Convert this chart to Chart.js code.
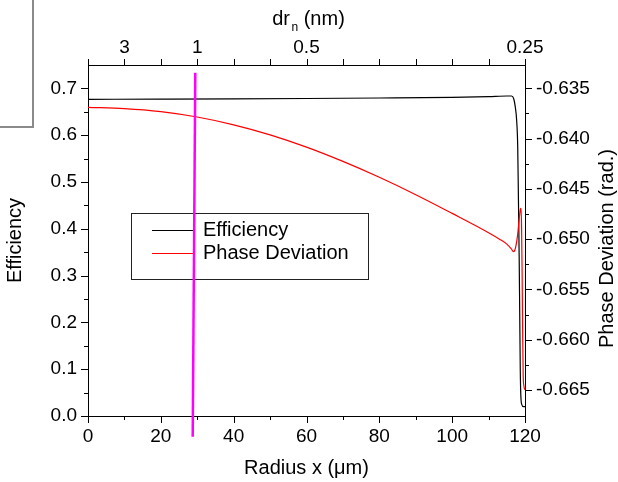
<!DOCTYPE html>
<html>
<head>
<meta charset="utf-8">
<title>Efficiency and phase deviation vs radius</title>
<script src="https://cdn.jsdelivr.net/npm/chart.js@4/dist/chart.umd.min.js"></script>
<style>
  html, body { margin: 0; padding: 0; background: #fff; }
  #wrap { position: relative; width: 618px; height: 482px; overflow: hidden; }
  #frame { position: absolute; left: -10px; top: -10px; width: 42px; height: 136px;
           border-right: 2px solid #8a8a8a; border-bottom: 2px solid #8a8a8a; }
</style>
</head>
<body>
<div id="wrap">
  <canvas id="c" width="618" height="482"></canvas>
  <div id="frame"></div>
</div>
<script>
// Radius x (µm) and diffraction efficiency
const effX = [0, 20, 40, 60, 80, 100, 110, 115, 116.3, 116.9, 117.3, 117.7, 118.0, 118.2, 118.4, 118.55, 118.7, 118.85, 119.1, 119.6, 120];
const effY = [0.6767, 0.6770, 0.6775, 0.6784, 0.6795, 0.6810, 0.6825, 0.6838, 0.6838, 0.678, 0.662, 0.6325, 0.5754, 0.4615, 0.34, 0.22, 0.10, 0.045, 0.025, 0.02, 0.02];

// Radius x (µm) and phase deviation (rad.)
const phaseX = [0, 10, 20, 30, 40, 50, 60, 70, 80, 90, 100, 110, 113, 115, 116.3, 116.8, 117.2, 117.6, 118.0, 118.3, 118.55, 118.75, 118.9, 119.05, 119.2, 119.35, 119.5, 119.7, 120];
const phaseY = [-0.63689, -0.63701, -0.63731, -0.63785, -0.63863, -0.63963, -0.64085, -0.64227, -0.64385, -0.64558, -0.64744, -0.64936, -0.65000, -0.65050, -0.65100, -0.65125, -0.65110, -0.65050, -0.64950, -0.64840, -0.64750, -0.64700, -0.64693, -0.64859, -0.65307, -0.65904, -0.66351, -0.66460, -0.66500];

// Marker line at the 1 nm zone width
const markX = [28.75, 29.46];
const markY = [-0.0442, 0.7335];

// Axis ticks
const effTicks = [0, 0.1, 0.2, 0.3, 0.4, 0.5, 0.6, 0.7];
const effMinor = [0.05, 0.15, 0.25, 0.35, 0.45, 0.55, 0.65];
const phaseTicks = [-0.635, -0.640, -0.645, -0.650, -0.655, -0.660, -0.665];
const phaseMinor = [-0.6375, -0.6425, -0.6475, -0.6525, -0.6575, -0.6625];
const radiusTicks = [0, 20, 40, 60, 80, 100, 120];
const radiusMinor = [10, 30, 50, 70, 90, 110];
const drTickPos = [10, 30, 60, 120];
const drTickLabels = ['3', '1', '0.5', '0.25'];
const drMinor = [0, 20, 40, 50, 70, 80, 90, 100, 110];

// Legend entries, top to bottom
const legendOrder = ['Efficiency', 'Phase Deviation'];

const FONT = "'Liberation Sans', Arial, sans-serif";
const toXY = (xs, ys) => xs.map((x, i) => ({ x: x, y: ys[i] }));

// Short outward tick marks, major and minor, on all four sides
const tickMarks = {
  id: 'tickMarks',
  afterDraw(chart) {
    const { ctx, chartArea: a, scales: s } = chart;
    ctx.save();
    ctx.strokeStyle = '#000';
    ctx.lineWidth = 1;
    const seg = (x1, y1, x2, y2) => { ctx.beginPath(); ctx.moveTo(x1, y1); ctx.lineTo(x2, y2); ctx.stroke(); };
    const px = v => Math.round(v) + 0.5;
    radiusTicks.forEach(v => { const x = px(s.x.getPixelForValue(v)); seg(x, a.bottom, x, a.bottom + 7); });
    radiusMinor.forEach(v => { const x = px(s.x.getPixelForValue(v)); seg(x, a.bottom, x, a.bottom + 4); });
    drTickPos.concat(drMinor).forEach(v => { const x = px(s.x2.getPixelForValue(v)); seg(x, a.top, x, a.top - 6); });
    effTicks.forEach(v => { const y = px(s.y.getPixelForValue(v)); seg(a.left - 7, y, a.left, y); });
    effMinor.forEach(v => { const y = px(s.y.getPixelForValue(v)); seg(a.left - 4, y, a.left, y); });
    phaseTicks.forEach(v => { const y = px(s.y2.getPixelForValue(v)); seg(a.right, y, a.right + 7, y); });
    phaseMinor.forEach(v => { const y = px(s.y2.getPixelForValue(v)); seg(a.right, y, a.right + 4, y); });
    ctx.restore();
  }
};

// Boxed legend inside the plot
const boxLegend = {
  id: 'boxLegend',
  beforeDatasetsDraw(chart) {
    const ctx = chart.ctx;
    const sets = chart.data.datasets;
    ctx.save();
    ctx.fillStyle = '#fff';
    ctx.fillRect(131.5, 213.5, 237, 66);
    ctx.strokeStyle = '#222';
    ctx.lineWidth = 1;
    ctx.strokeRect(131.5, 213.5, 237, 66);
    ctx.font = '20px ' + FONT;
    ctx.textBaseline = 'middle';
    ctx.textAlign = 'left';
    legendOrder.forEach((name, i) => {
      const d = sets.find(ds => ds.label === name);
      const y = 230.5 + i * 23;
      ctx.strokeStyle = d.borderColor;
      ctx.beginPath(); ctx.moveTo(152, y); ctx.lineTo(194, y); ctx.stroke();
      ctx.fillStyle = '#000';
      ctx.fillText(d.label, 203, y);
    });
    ctx.restore();
  }
};

// Top axis title with subscript, dr_n (nm), and right axis title read bottom-to-top
const axisTitles = {
  id: 'axisTitles',
  afterDraw(chart) {
    const { ctx, chartArea: a } = chart;
    ctx.save();
    ctx.fillStyle = '#000';
    ctx.textBaseline = 'alphabetic';
    ctx.textAlign = 'left';
    const big = '20px ' + FONT, small = '12px ' + FONT;
    ctx.font = big; const w1 = ctx.measureText('dr').width;
    ctx.font = small; const w2 = ctx.measureText('n').width;
    ctx.font = big; const w3 = ctx.measureText(' (nm)').width;
    const total = w1 + 1.5 + w2 + w3;
    let x = (a.left + a.right) / 2 - total / 2 + 2;
    const base = 25;
    ctx.font = big; ctx.fillText('dr', x, base); x += w1 + 1.5;
    ctx.font = small; ctx.fillText('n', x, base + 6); x += w2;
    ctx.font = big; ctx.fillText(' (nm)', x, base);

    ctx.translate(607, (a.top + a.bottom) / 2 + 8);
    ctx.rotate(-Math.PI / 2);
    ctx.font = big;
    ctx.textAlign = 'center';
    ctx.textBaseline = 'middle';
    ctx.fillText('Phase Deviation (rad.)', 0, 0);
    ctx.restore();
  }
};

const tickFont = { family: FONT, size: 19 };
const titleFont = { family: FONT, size: 20 };
const noGrid = { display: false, drawTicks: true, tickLength: 7 };
const axisBorder = { display: true, color: '#000', width: 1 };

new Chart(document.getElementById('c'), {
  type: 'line',
  data: {
    datasets: [
      { label: 'marker', data: toXY(markX, markY), xAxisID: 'x', yAxisID: 'y',
        borderColor: '#ff00ff', borderWidth: 2.5, pointRadius: 0, clip: false, order: 0 },
      { label: 'Phase Deviation', data: toXY(phaseX, phaseY), xAxisID: 'x', yAxisID: 'y2',
        borderColor: '#ff0000', borderWidth: 1.2, pointRadius: 0, cubicInterpolationMode: 'monotone', order: 1 },
      { label: 'Efficiency', data: toXY(effX, effY), xAxisID: 'x', yAxisID: 'y',
        borderColor: '#000000', borderWidth: 1.2, pointRadius: 0, cubicInterpolationMode: 'monotone', order: 2 }
    ]
  },
  options: {
    responsive: false,
    animation: false,
    devicePixelRatio: 1,
    layout: { padding: 0 },
    plugins: { legend: { display: false }, tooltip: { enabled: false } },
    scales: {
      x: {
        type: 'linear', position: 'bottom', min: 0, max: 120,
        grid: noGrid, border: axisBorder,
        afterBuildTicks: sc => { sc.ticks = radiusTicks.map(v => ({ value: v })); },
        afterFit: sc => { sc.height = 66; },
        ticks: { font: tickFont, color: '#000', padding: 2, maxRotation: 0, callback: v => String(v) },
        title: { display: true, text: 'Radius x (\u03bcm)', font: titleFont, color: '#000', padding: { top: 0, bottom: 2 } }
      },
      x2: {
        type: 'linear', position: 'top', min: 0, max: 120,
        grid: { display: false, drawTicks: true, tickLength: 6 }, border: axisBorder,
        afterBuildTicks: sc => { sc.ticks = drTickPos.map(v => ({ value: v })); },
        afterFit: sc => { sc.height = 65; },
        ticks: { font: tickFont, color: '#000', padding: 0, maxRotation: 0,
                 callback: v => drTickLabels[drTickPos.indexOf(v)] }
      },
      y: {
        type: 'linear', position: 'left', min: 0, max: 0.75,
        grid: noGrid, border: axisBorder,
        afterBuildTicks: sc => { sc.ticks = effTicks.map(v => ({ value: v })); },
        afterFit: sc => { sc.width = 88; },
        ticks: { font: tickFont, color: '#000', padding: 4, callback: v => v.toFixed(1) },
        title: { display: true, text: 'Efficiency', font: titleFont, color: '#000', padding: { top: 3, bottom: 0 } }
      },
      y2: {
        type: 'linear', position: 'right', min: -0.66759, max: -0.63268,
        grid: noGrid, border: axisBorder,
        afterBuildTicks: sc => { sc.ticks = phaseTicks.map(v => ({ value: v })); },
        afterFit: sc => { sc.width = 93; },
        ticks: { font: tickFont, color: '#000', padding: 4, callback: v => v.toFixed(3) }
      }
    }
  },
  plugins: [boxLegend, tickMarks, axisTitles]
});
</script>
</body>
</html>
